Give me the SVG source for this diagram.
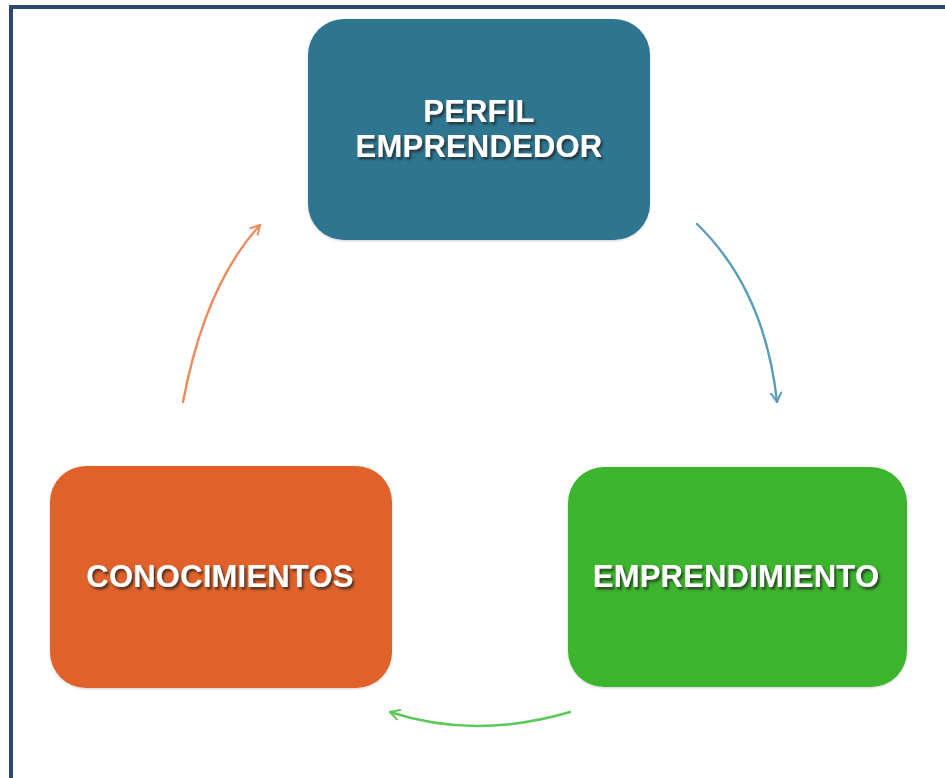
<svg xmlns="http://www.w3.org/2000/svg" width="945" height="778" viewBox="0 0 945 778">
  <style>
    .lbl { font-family: "Liberation Sans", Arial, sans-serif; font-weight: bold; font-size: 31px; letter-spacing: 0.2px; fill: #ffffff; text-anchor: middle; filter: url(#tshadow); }
    .conn { fill: none; stroke-width: 2.4; stroke-linecap: round; }
  </style>
  <defs>
    <filter id="tshadow" x="-10%" y="-30%" width="120%" height="160%">
      <feDropShadow dx="2" dy="2.5" stdDeviation="1" flood-color="#222222" flood-opacity="0.75"/>
    </filter>
    <filter id="bshadow" x="-5%" y="-5%" width="110%" height="110%">
      <feDropShadow dx="0" dy="1" stdDeviation="1.2" flood-color="#000000" flood-opacity="0.18"/>
    </filter>
    <marker id="ahBlue" viewBox="0 0 12 12" refX="10" refY="6" markerWidth="12" markerHeight="12" markerUnits="userSpaceOnUse" orient="auto">
      <path d="M1,1 L10,6 L1,11" fill="none" stroke="#5b9cb8" stroke-width="2" stroke-linecap="round" stroke-linejoin="round"/>
    </marker>
    <marker id="ahOrange" viewBox="0 0 12 12" refX="10" refY="6" markerWidth="12" markerHeight="12" markerUnits="userSpaceOnUse" orient="auto">
      <path d="M1,1 L10,6 L1,11" fill="none" stroke="#f08a5d" stroke-width="2" stroke-linecap="round" stroke-linejoin="round"/>
    </marker>
    <marker id="ahGreen" viewBox="0 0 12 12" refX="10" refY="6" markerWidth="12" markerHeight="12" markerUnits="userSpaceOnUse" orient="auto">
      <path d="M1,1 L10,6 L1,11" fill="none" stroke="#5cc85a" stroke-width="2" stroke-linecap="round" stroke-linejoin="round"/>
    </marker>
  </defs>

  <rect x="0" y="0" width="945" height="778" fill="#ffffff"/>
  <rect x="11" y="7" width="1000" height="1000" fill="none" stroke="#2c4a6e" stroke-width="4"/>

  <g id="connectors">
    <path class="conn" d="M697,224 Q765,290 777,402" stroke="#5b9cb8" marker-end="url(#ahBlue)"/>
    <path class="conn" d="M570,712 Q475,740 390,712" stroke="#5cc85a" marker-end="url(#ahGreen)"/>
    <path class="conn" d="M183,402 Q205,285 260,225" stroke="#f08a5d" marker-end="url(#ahOrange)"/>
  </g>

  <g id="node-perfil">
    <rect x="308" y="19" width="342" height="221" rx="36" ry="36" fill="#2e7590" filter="url(#bshadow)"/>
    <text class="lbl" x="479" y="122">PERFIL</text>
    <text class="lbl" x="479" y="157">EMPRENDEDOR</text>
  </g>

  <g id="node-emprendimiento">
    <rect x="568" y="467" width="339" height="220" rx="36" ry="36" fill="#3db42f" filter="url(#bshadow)"/>
    <text class="lbl" x="736" y="587">EMPRENDIMIENTO</text>
  </g>

  <g id="node-conocimientos">
    <rect x="50" y="466" width="342" height="222" rx="36" ry="36" fill="#e0622a" filter="url(#bshadow)"/>
    <text class="lbl" x="220" y="587">CONOCIMIENTOS</text>
  </g>
</svg>
